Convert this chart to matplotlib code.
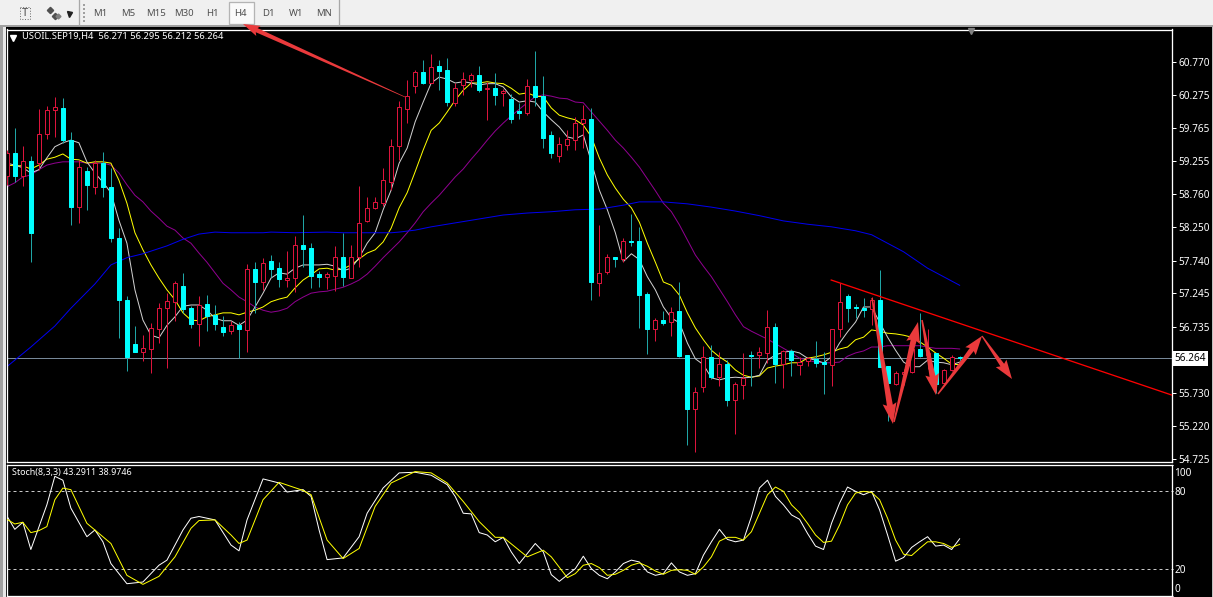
import matplotlib
matplotlib.use('Agg')
import matplotlib.pyplot as plt
import numpy as np
from matplotlib.patches import Polygon, Rectangle
from matplotlib.transforms import ScaledTranslation

plt.rcParams['font.family'] = ['Noto Sans', 'DejaVu Sans']

# USOIL H4 candles
opens = [59.03,59.38,59.03,59.26,59.23,59.67,60.04,60.07,59.58,58.56,
         59.11,58.87,59.23,58.87,58.09,57.15,56.48,56.35,56.40,56.70,
         57.02,57.12,57.36,57.02,56.78,57.08,56.92,56.74,56.67,56.76,
         56.69,57.62,57.42,57.74,57.63,57.45,57.48,57.98,57.94,57.54,
         57.50,57.51,57.80,57.48,57.80,58.35,58.55,58.62,58.94,59.49,
         60.05,60.40,60.62,60.45,60.71,60.65,60.15,60.42,60.50,60.57,
         60.36,60.37,60.30,60.21,60.02,59.99,60.40,60.25,59.66,59.34,
         59.51,59.58,59.84,59.90,57.40,57.57,57.80,57.77,58.04,58.04,
         57.24,56.70,56.84,56.81,56.98,56.31,55.49,55.82,56.28,55.97,
         56.17,55.62,55.85,56.31,56.31,56.34,56.74,56.17,56.37,56.16,
         56.22,56.25,56.20,56.16,56.70,57.21,57.04,57.02,57.01,57.15,
         56.14,55.87,56.02,56.05,56.40,56.31,56.34,55.88,56.08,56.271]
highs = [59.43,59.77,59.49,59.34,60.05,60.10,60.24,60.22,59.70,59.28,
         59.17,59.28,59.40,59.16,58.24,57.21,56.75,56.61,56.80,57.10,
         57.25,57.44,57.56,57.05,57.21,57.22,57.07,56.90,56.83,56.81,
         57.69,57.72,57.79,57.83,57.72,57.89,58.12,58.44,58.01,57.59,
         57.57,57.97,58.17,57.98,58.88,58.71,58.71,59.16,59.60,60.18,
         60.50,60.65,60.80,60.89,60.80,60.83,60.45,60.62,60.60,60.71,
         60.47,60.60,60.36,60.28,60.15,60.51,60.94,60.56,59.72,59.63,
         59.73,59.93,60.12,60.07,58.29,57.85,57.80,58.09,58.46,58.26,
         57.27,56.87,56.98,57.04,57.42,56.31,55.82,56.45,56.46,56.35,
         56.23,55.90,56.34,56.37,56.43,56.99,56.80,56.38,56.40,56.28,
         56.28,56.52,56.35,56.70,57.40,57.24,57.09,57.18,57.19,57.60,
         56.14,56.06,56.09,56.46,56.95,56.70,56.34,56.09,56.31,56.295]
lows = [58.90,58.94,58.88,57.73,59.13,59.60,59.63,59.54,58.29,58.32,
        58.52,58.76,58.71,58.03,56.57,56.06,56.35,56.22,56.03,56.49,
        56.11,56.83,56.95,56.72,56.45,56.67,56.69,56.60,56.63,56.26,
        56.35,56.95,57.30,57.50,57.34,57.34,57.27,57.65,57.33,57.34,
        57.31,57.28,57.36,57.48,57.65,58.33,58.53,58.58,58.82,59.28,
        59.84,60.30,60.44,60.45,60.34,60.10,60.10,60.27,60.39,60.31,
        59.89,60.12,60.10,59.84,59.90,59.96,60.10,59.46,59.31,59.25,
        59.43,59.43,59.46,57.15,57.21,57.54,57.65,57.73,57.97,56.72,
        56.32,56.52,56.76,56.60,56.28,54.94,54.83,55.75,55.94,55.84,
        55.53,55.11,55.64,55.84,56.11,56.19,55.88,55.81,55.99,56.00,
        56.14,56.13,55.71,55.84,56.58,56.81,56.87,56.89,56.76,56.13,
        55.30,55.85,55.85,56.03,56.28,56.09,55.73,55.88,56.06,56.212]
closes = [59.38,59.03,59.26,58.17,59.67,60.04,60.08,59.58,58.56,59.17,
          58.90,59.23,58.87,58.09,57.15,56.28,56.35,56.41,56.72,57.02,
          57.13,57.40,57.01,56.78,57.07,56.90,56.78,56.66,56.76,56.70,
          57.62,57.42,57.71,57.62,57.47,57.48,57.98,57.92,57.51,57.50,
          57.54,57.80,57.50,57.80,58.32,58.55,58.64,58.97,59.49,60.08,
          60.25,60.62,60.45,60.69,60.63,60.16,60.37,60.51,60.57,60.34,
          60.37,60.27,60.33,59.90,59.99,60.40,60.24,59.61,59.38,59.52,
          59.60,59.84,59.90,57.42,57.56,57.80,57.77,58.04,58.03,57.22,
          56.70,56.84,56.80,56.96,56.29,55.49,55.75,56.28,55.97,56.17,
          55.62,55.87,55.96,56.29,56.35,56.74,56.17,56.37,56.23,56.20,
          56.26,56.19,56.17,56.70,57.12,57.02,57.02,56.99,57.15,56.13,
          55.88,56.03,56.05,56.40,56.29,56.34,55.87,56.08,56.28,56.264]

# moving averages, one value per candle
ma_white = [59.23,59.20,59.16,59.08,59.13,59.31,59.48,59.54,59.58,59.54,
            59.25,59.08,58.94,58.78,58.36,58.01,57.30,56.84,56.61,56.57,
            56.76,56.89,57.05,57.07,57.07,56.99,56.87,56.83,56.83,56.76,
            56.84,57.04,57.25,57.48,57.56,57.54,57.63,57.68,57.68,57.68,
            57.69,57.66,57.59,57.63,57.79,58.01,58.17,58.52,58.82,59.23,
            59.46,59.86,60.16,60.45,60.54,60.51,60.45,60.47,60.45,60.42,
            60.44,60.44,60.39,60.24,60.16,60.18,60.16,60.01,59.89,59.78,
            59.63,59.60,59.66,59.25,58.82,58.52,58.17,57.73,57.85,57.76,
            57.50,57.30,57.04,56.87,56.80,56.49,56.25,56.16,55.96,55.93,
            55.96,55.97,55.96,55.97,56.00,56.23,56.31,56.35,56.37,56.34,
            56.26,56.23,56.19,56.28,56.49,56.66,56.81,57.04,57.04,56.81,
            56.58,56.38,56.20,56.13,56.13,56.23,56.20,56.19,56.16,56.20]
ma_yellow = [59.20,59.19,59.19,59.14,59.20,59.29,59.32,59.37,59.29,59.28,
             59.23,59.25,59.25,59.23,58.97,58.62,58.17,57.91,57.68,57.48,
             57.30,57.15,56.95,56.84,56.83,56.89,56.92,56.95,56.95,56.92,
             56.96,56.99,57.04,57.12,57.16,57.19,57.33,57.45,57.53,57.62,
             57.63,57.60,57.62,57.68,57.77,57.86,57.91,58.03,58.24,58.55,
             58.78,59.10,59.43,59.73,59.84,60.01,60.19,60.34,60.45,60.45,
             60.47,60.45,60.44,60.37,60.28,60.30,60.25,60.24,60.07,59.96,
             59.92,59.89,59.81,59.63,59.31,59.05,58.85,58.68,58.55,58.33,
             58.01,57.72,57.42,57.37,57.22,56.95,56.72,56.54,56.38,56.28,
             56.20,56.08,56.00,55.97,55.99,56.11,56.14,56.16,56.19,56.19,
             56.26,56.28,56.31,56.35,56.40,56.43,56.54,56.58,56.69,56.67,
             56.64,56.63,56.61,56.58,56.51,56.43,56.34,56.26,56.17,56.16]
ma_purple = [58.87,58.93,59.02,59.05,59.13,59.20,59.23,59.25,59.25,59.25,
             59.23,59.23,59.23,59.20,59.08,58.90,58.74,58.64,58.50,58.39,
             58.27,58.21,58.09,58.01,57.86,57.72,57.56,57.40,57.30,57.19,
             57.12,57.04,56.99,56.96,56.98,57.02,57.12,57.19,57.25,57.27,
             57.28,57.31,57.34,57.39,57.45,57.54,57.66,57.79,57.91,58.03,
             58.17,58.32,58.49,58.62,58.74,58.88,59.02,59.14,59.29,59.43,
             59.58,59.72,59.84,59.95,60.05,60.15,60.24,60.27,60.25,60.22,
             60.21,60.16,60.15,60.01,59.87,59.73,59.58,59.46,59.32,59.17,
             58.99,58.81,58.62,58.49,58.29,58.06,57.83,57.66,57.50,57.31,
             57.12,56.92,56.74,56.67,56.61,56.55,56.48,56.41,56.34,56.26,
             56.23,56.20,56.19,56.19,56.20,56.29,56.34,56.37,56.43,56.43,
             56.45,56.45,56.45,56.45,56.45,56.43,56.41,56.41,56.41,56.40]
ma_blue_idx = [0,3,6,8,11,13,15,17,20,22,24,26,28,32,33,36,40,42,48,49,51,53,56,59,62,
               65,68,71,74,77,79,82,85,88,91,94,97,100,103,106,108,110,112,115,119]
ma_blue = [56.13,56.43,56.75,57.02,57.39,57.68,57.79,57.85,57.97,58.07,58.15,58.18,58.17,
           58.17,58.18,58.17,58.18,58.17,58.17,58.18,58.21,58.26,58.32,58.38,58.44,
           58.47,58.49,58.52,58.53,58.59,58.64,58.64,58.61,58.56,58.50,58.43,58.35,
           58.30,58.26,58.20,58.14,58.01,57.88,57.63,57.37]

# stochastic (8,3,3)
stoch_main_idx = [0,1,2,3,5,6,7,8,10,11,12,13,15,17,19,20,22,23,24,26,28,29,30,32,34,35,37,38,39,40,
                  42,44,45,47,49,51,53,55,56,57,58,59,60,61,62,63,64,66,67,68,69,71,72,73,74,
                  75,76,77,78,79,80,81,82,83,84,85,86,87,88,89,90,91,92,93,94,95,96,97,98,99,
                  100,101,102,103,104,105,106,107,108,109,110,111,112,113,114,115,116,117,118,119]
stoch_main = [60.8,50.5,55.9,35.1,69.2,91.0,88.0,66.7,44.9,50.0,41.0,24.4,9.0,10.3,23.1,27.0,50.0,
              59.0,60.3,57.7,38.5,34.1,57.7,89.0,85.9,79.0,80.8,75.6,50.0,27.4,28.7,44.9,62.8,
              82.1,93.6,94.1,91.8,84.6,75.6,62.8,62.3,48.0,46.2,41.0,44.4,33.3,24.4,39.7,33.3,
              15.9,10.8,20.5,30.0,20.5,15.4,
              12.8,18.0,24.4,27.0,25.6,18.0,15.4,16.7,24.9,18.0,15.4,16.7,30.8,41.0,50.5,42.8,
              41.0,42.3,60.3,82.1,88.0,75.6,69.2,61.5,58.2,47.4,37.7,35.1,55.1,70.5,82.8,79.5,
              76.9,79.5,65.4,46.2,26.2,29.0,36.7,41.0,44.9,37.7,38.5,35.1,43.29]
stoch_sig_idx = [0,1,2,3,4,5,6,7,8,10,11,13,15,17,19,21,23,24,26,28,29,30,32,34,37,38,40,42,44,46,48,
                 51,53,55,57,59,61,62,65,67,68,70,71,72,73,74,
                 75,76,77,78,79,80,81,82,83,84,85,86,87,88,89,90,91,92,93,94,95,96,97,98,99,
                 100,101,102,103,104,105,106,107,108,109,110,111,112,113,114,115,116,117,118,119]
stoch_sig = [58.2,54.6,55.9,48.0,49.5,52.6,73.1,82.0,80.8,55.1,50.0,39.7,15.4,8.5,14.6,29.5,51.3,
             57.2,57.7,46.2,39.7,42.3,73.1,86.4,80.2,76.9,42.3,28.2,35.9,68.0,85.9,94.6,93.6,
             85.9,71.8,56.4,44.4,44.4,29.5,34.6,29.5,13.6,16.7,23.1,24.4,21.3,
             15.4,16.2,19.2,23.1,24.9,22.3,18.7,16.2,19.2,19.7,19.2,16.2,21.8,29.5,41.5,44.4,
             44.4,42.3,48.7,62.8,76.9,82.8,79.5,69.2,63.3,55.1,46.2,40.5,41.5,53.8,69.2,78.2,
             79.5,78.7,73.1,59.0,42.3,31.5,30.5,35.9,41.0,41.0,39.7,36.7,38.97]

price_ticks = [60.770,60.275,59.765,59.255,58.760,58.250,57.740,57.245,56.735,55.730,55.220,54.725]
last_price = 56.264
stoch_ticks = [100,80,20,0]
stoch_levels = [80,20]
timeframes = ['M1','M5','M15','M30','H1','H4','D1','W1','MN']
title = 'USOIL.SEP19,H4  56.271 56.295 56.212 56.264'
stoch_title = 'Stoch(8,3,3) 43.2911 38.9746'
trend_x = [102.96, 145.46]
trend_y = [57.45, 55.70]

W, H = 1213, 597
PX = 0.72   # one pixel in points at dpi 100
UP = '#dc143c'
DOWN = '#00ffff'
WICK_DOWN = '#1fa5a5'


def box(x0, y0, x1, y1):
    return [x0/W, 1-y1/H, (x1-x0)/W, (y1-y0)/H]


def style_pane(ax):
    ax.set_facecolor('black')
    for s in ax.spines.values():
        s.set_color('white')
        s.set_linewidth(1.3*PX)
    ax.yaxis.tick_right()
    ax.tick_params(axis='y', colors='white', length=3, width=PX, labelsize=7.2, pad=2)
    ax.tick_params(axis='x', length=0, labelbottom=False)
    ax.set_xticks([])
    ax.set_xlim(-0.04, 145.46)


def arrow(ax, x0, y0, x1, y1, w0, w1, w2, hl, color='#ea3a3c'):
    # tapered drawing-tool arrow, pixel coordinates
    p0, p1 = np.array([x0, y0], float), np.array([x1, y1], float)
    d = (p1-p0)/np.hypot(*(p1-p0))
    n = np.array([-d[1], d[0]])
    base = p1-d*hl
    pts = [p0+n*w0/2, base+n*w1/2, base-d*2+n*w2/2, p1,
           base-d*2-n*w2/2, base-n*w1/2, p0-n*w0/2]
    ax.add_patch(Polygon(pts, closed=True, fc=color, ec='none', zorder=10))


fig = plt.figure(figsize=(W/100, H/100), dpi=100, facecolor='black')

ax = fig.add_axes(box(6.5, 29.5, 1171.5, 462))
style_pane(ax)
ax.set_ylim(61.714-0.015227*462, 61.714-0.015227*29.5)

idx = np.arange(len(opens))
opens_a, highs_a, lows_a, closes_a = map(np.array, (opens, highs, lows, closes))
up = closes_a >= opens_a

ax.axhline(last_price, color='#778899', lw=PX, zorder=1)
for vals, col in ((ma_purple, '#900090'), (ma_yellow, '#ffff00'), (ma_white, '#d0d0d0')):
    ax.plot(idx, vals, color=col, lw=PX, zorder=2)
ax.plot(ma_blue_idx, ma_blue, color='#0000f0', lw=PX, zorder=2)

ax.vlines(idx[up], lows_a[up], highs_a[up], color=UP, lw=PX, zorder=3)
ax.vlines(idx[~up], lows_a[~up], highs_a[~up], color=WICK_DOWN, lw=PX, zorder=3)
body_lo = np.minimum(opens_a, closes_a)
body_hi = np.maximum(opens_a, closes_a)
ax.bar(idx[up], (body_hi-body_lo)[up], bottom=body_lo[up], width=0.5, facecolor='black',
       edgecolor=UP, linewidth=PX, zorder=4)
ax.bar(idx[~up], (body_hi-body_lo)[~up], bottom=body_lo[~up], width=0.5, facecolor=DOWN,
       edgecolor=DOWN, linewidth=PX, zorder=4)
ax.plot(trend_x, trend_y, color='#ff0000', lw=1.3*PX, zorder=6)

ax.set_yticks(price_ticks + [last_price])
ax.set_yticklabels(['%.3f' % t for t in price_ticks] + [''])
ax.text(1174.5/W, 1-358.5/H, '%.3f' % last_price, transform=fig.transFigure, fontsize=7.2,
        color='black', va='center', ha='left', zorder=12, clip_on=False,
        bbox=dict(fc='white', ec='none', pad=1.6))
ax.text(22/W, 1-37/H, title, transform=fig.transFigure, fontsize=6.75, color='white',
        va='center', ha='left')

st = fig.add_axes(box(6.5, 464.5, 1171.5, 595.5))
style_pane(st)
st.set_ylim(0, 100)
for lv in stoch_levels:
    st.axhline(lv, color='#c8c8c8', lw=PX, dashes=(3, 3), zorder=1)
st.plot(stoch_main_idx, stoch_main, color='white', lw=PX, zorder=2)
st.plot(stoch_sig_idx, stoch_sig, color='#ffff00', lw=PX, zorder=3)
st.set_yticks(stoch_ticks)
st.set_yticklabels([str(t) for t in stoch_ticks])
st.tick_params(axis='y', length=1, pad=1)
labs = st.get_yticklabels()
labs[0].set_va('top')
labs[0].set_transform(labs[0].get_transform() + ScaledTranslation(0, -3/100, fig.dpi_scale_trans))
labs[-1].set_va('bottom')
st.text(12/W, 1-473/H, stoch_title, transform=fig.transFigure, fontsize=6.45, color='white',
        va='center', ha='left')

# window chrome, toolbar and the drawn arrows
top = fig.add_axes([0, 0, 1, 1], facecolor='none', zorder=8)
top.set_xlim(0, W)
top.set_ylim(H, 0)
top.axis('off')
top.add_patch(Rectangle((0, 0), W, 25, fc='#f0f0f0', ec='none'))
top.add_patch(Rectangle((0, 25), W, 1.6, fc='#a0a0a0', ec='none'))
top.add_patch(Rectangle((0, 27), 2.5, H, fc='#a0a0a0', ec='none'))
top.add_patch(Rectangle((2.5, 27), 3, H, fc='#e8e8e8', ec='none'))
top.add_patch(Rectangle((1212, 27), 1, H, fc='#c0c0c0', ec='none'))
for xs in (79, 339):
    top.plot([xs, xs], [0, 25], color='#a8a8a8', lw=1.3*PX)
top.plot([83.5, 83.5], [4, 22], color='#a0a0a0', lw=2*PX, dashes=(1, 1))
top.add_patch(Rectangle((228.5, 1.5), 25, 22, fc='#fafafa', ec='#b4b4b4', lw=1.3*PX))
for i, tf in enumerate(timeframes):
    top.text(100+28*i, 13.5, tf, fontsize=6.9, color='#505050', ha='center', va='center')
top.add_patch(Rectangle((19.5, 7), 10.5, 12, fc='none', ec='#707070', lw=PX, ls=':'))
top.text(25, 13, 'T', fontsize=8, color='#505050', ha='center', va='center')
top.plot([50, 55], [9.5, 16], ls='none', marker='D', ms=3.2, color='#505050')
top.plot([58], [16], ls='none', marker='D', ms=2.5, color='#808080')
top.plot([69], [13.5], ls='none', marker='v', ms=3.6, color='#202020')
top.plot([13], [37.5], ls='none', marker='v', ms=4, color='white')
top.plot([971], [31], ls='none', marker='v', ms=4, color='#808080')

arrow(top, 405, 97, 243, 24, 0.6, 4.5, 11, 15)
arrow(top, 872, 298, 893, 424, 1.5, 6, 14, 19)
arrow(top, 894, 422, 918, 322, 1.5, 6, 14, 19)
arrow(top, 922, 320, 936, 395, 1.5, 6, 14, 19)
arrow(top, 938, 394, 982, 336, 1.5, 5, 13, 17)
arrow(top, 982, 336, 1012, 379, 1.2, 4.5, 13, 17)

fig.savefig('out.png', dpi=100, facecolor='black')
